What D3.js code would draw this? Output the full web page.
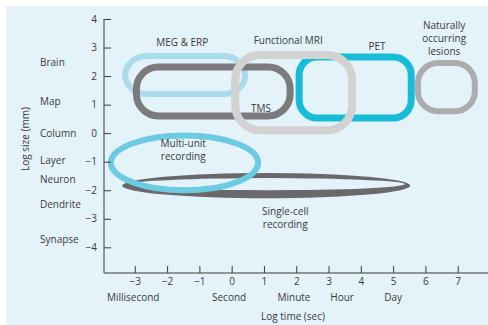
<!DOCTYPE html>
<html>
<head>
<meta charset="utf-8">
<script src="https://cdn.jsdelivr.net/npm/d3@7/dist/d3.min.js"></script>
<style>
  html, body { margin: 0; padding: 0; background: #ffffff; }
  svg { display: block; }
  text { font-family: "Open Sans", "Noto Sans", sans-serif; fill: #3a3a3a; }
</style>
</head>
<body>
<script>
// ---- Data (log10 units) ----
const yTicks = [-4, -3, -2, -1, 0, 1, 2, 3, 4];
const xTicks = [-3, -2, -1, 0, 1, 2, 3, 4, 5, 6, 7];

const sizeLabels = ["Brain", "Map", "Column", "Layer", "Neuron", "Dendrite", "Synapse"];
const sizeLabelValues = [2.49, 1.12, 0, -0.95, -1.61, -2.49, -3.72];

const timeLabels = ["Millisecond", "Second", "Minute", "Hour", "Day"];
const timeLabelValues = [-3.05, -0.08, 1.93, 3.42, 5.0];

// Rounded-rectangle techniques: [time min, time max], [size min, size max]
const boxNames = ["MEG & ERP", "TMS", "PET", "Functional MRI", "Naturally occurring lesions"];
const boxTime = [[-3.3, 0.42], [-2.95, 1.81], [2.09, 5.56], [0.11, 3.73], [5.77, 7.53]];
const boxSize = [[1.37, 2.7], [0.6, 2.32], [0.53, 2.67], [0.1, 2.74], [0.77, 2.46]];

// Elliptical techniques: centre (time, size), half-extents (time, size)
const ellNames = ["Single-cell recording", "Multi-unit recording"];
const ellCenter = [[1.07, -1.84], [-1.46, -1.04]];
const ellRadius = [[4.46, 0.44], [2.28, 0.96]];

// Labels (anchor positions in data units), one entry per line
const labelLines = [
  ["MEG & ERP"], ["Functional MRI"], ["PET"],
  ["Naturally", "occurring", "lesions"], ["TMS"],
  ["Multi-unit", "recording"], ["Single-cell", "recording"]
];
const labelPos = [[-1.53, 3.16], [1.75, 3.26], [4.5, 3.02], [6.58, 3.76],
                  [0.91, 0.88], [-1.5, -0.35], [1.66, -2.74]];

// ---- Styles ----
const boxColor = ["#a9dbeb", "#7b7b7e", "#17bdd8", "#d2d2d2", "#acacae"];
const boxWidth = [6, 7, 7, 8, 6];
const boxRadius = [22, 22, 18, 25, 20];
const ellColor = ["#69696b", "#6ccae1"];
const lineGap = 13;

const W = 488, H = 325;
const svg = d3.select("body").append("svg").attr("width", W).attr("height", H);

svg.append("rect").attr("x", 6).attr("y", 6).attr("width", W - 6).attr("height", H - 6)
  .attr("fill", "#e4f2f9");

const x = d3.scaleLinear().domain([-4, 8]).range([102.5, 490]);
const y = d3.scaleLinear().domain([-4.9, 4]).range([273, 19]);

// Boxes (drawn in layer order)
const boxG = svg.append("g");
boxNames.forEach((n, i) => {
  const x0 = x(boxTime[i][0]), x1 = x(boxTime[i][1]);
  const y0 = y(boxSize[i][1]), y1 = y(boxSize[i][0]);
  boxG.append("rect")
    .attr("x", x0).attr("y", y0)
    .attr("width", x1 - x0).attr("height", y1 - y0)
    .attr("rx", boxRadius[i]).attr("ry", boxRadius[i])
    .attr("fill", "none").attr("stroke", boxColor[i]).attr("stroke-width", boxWidth[i]);
});

// Single-cell: brush-like ellipse, thicker at the bottom
{
  const cx = x(ellCenter[0][0]), cy = y(ellCenter[0][1]);
  const rx = x(ellCenter[0][0] + ellRadius[0][0]) - cx;
  const ry = cy - y(ellCenter[0][1] + ellRadius[0][1]);
  const ell = (cx, cy, rx, ry) =>
    `M${cx - rx},${cy}A${rx},${ry} 0 1,0 ${cx + rx},${cy}A${rx},${ry} 0 1,0 ${cx - rx},${cy}Z`;
  svg.append("path")
    .attr("d", ell(cx, cy, rx, ry) + ell(cx + 1.5, cy - 1.5, rx - 7, ry - 6.5))
    .attr("fill", ellColor[0]).attr("fill-rule", "evenodd");
}
// Multi-unit ellipse
{
  const cx = x(ellCenter[1][0]), cy = y(ellCenter[1][1]);
  const rx = x(ellCenter[1][0] + ellRadius[1][0]) - cx;
  const ry = cy - y(ellCenter[1][1] + ellRadius[1][1]);
  svg.append("ellipse").attr("cx", cx).attr("cy", cy).attr("rx", rx).attr("ry", ry)
    .attr("fill", "none").attr("stroke", ellColor[1]).attr("stroke-width", 6);
}

// Axes
const yAxis = d3.axisLeft(y).tickValues(yTicks).tickSizeInner(-7).tickSizeOuter(0).tickPadding(7);
const gy = svg.append("g").attr("transform", "translate(104,0)").call(yAxis);
const xAxis = d3.axisBottom(x).tickValues(xTicks).tickSizeInner(-7).tickSizeOuter(0).tickPadding(5);
const gx = svg.append("g").attr("transform", "translate(0,273)").call(xAxis);
gx.select(".domain").attr("d", `M104,0H488`);
gy.select(".domain").attr("d", `M0,${y(4)}V273`);
[gx, gy].forEach(g => {
  g.selectAll(".domain, line").attr("stroke", "#3a3a3a").attr("stroke-width", 1);
  g.selectAll("text").attr("font-family", "Open Sans, sans-serif").attr("font-size", 10)
    .attr("fill", "#3a3a3a");
});

// Size category labels
svg.append("g").selectAll("text").data(sizeLabels).join("text")
  .attr("x", 40).attr("y", (d, i) => y(sizeLabelValues[i]))
  .attr("dy", "0.35em").attr("font-size", 10).text(d => d);

// Time category labels
svg.append("g").selectAll("text").data(timeLabels).join("text")
  .attr("x", (d, i) => x(timeLabelValues[i])).attr("y", 297)
  .attr("dy", "0.35em").attr("text-anchor", "middle").attr("font-size", 10).text(d => d);

// Axis titles
svg.append("text").attr("x", 293).attr("y", 316).attr("dy", "0.35em")
  .attr("text-anchor", "middle").attr("font-size", 10).text("Log time (sec)");
svg.append("text").attr("transform", "translate(25,139) rotate(-90)")
  .attr("dy", "0.35em").attr("text-anchor", "middle").attr("font-size", 10).text("Log size (mm)");

// Technique labels
labelLines.forEach((lines, i) => {
  const t = svg.append("text").attr("text-anchor", "middle").attr("font-size", 10);
  lines.forEach((s, j) => {
    t.append("tspan").attr("x", x(labelPos[i][0]))
      .attr("y", y(labelPos[i][1]) + j * lineGap).attr("dy", "0.35em").text(s);
  });
});
</script>
</body>
</html>
